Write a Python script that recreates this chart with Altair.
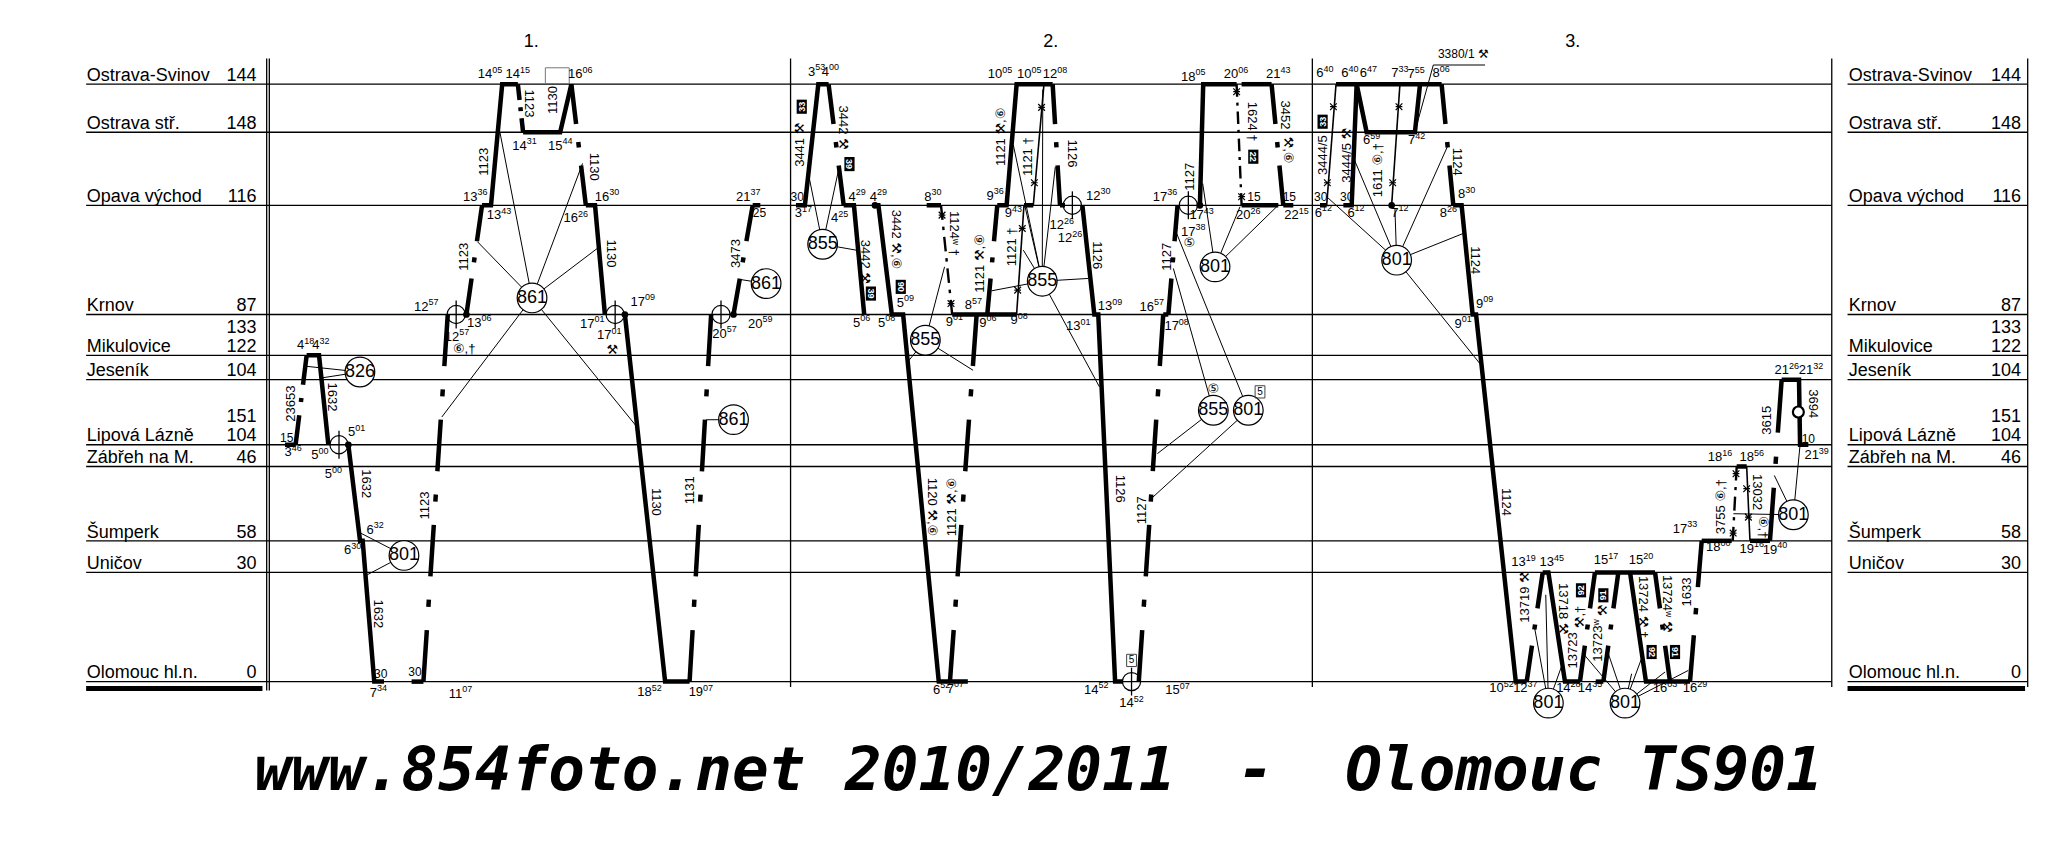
import math
import altair as alt
import pandas as pd

FONT = "Liberation Sans, Arial, DejaVu Sans, sans-serif"
MONO = "DejaVu Sans Mono"
SX, SY = 1.315, 1.316   # schematic units -> page pixels (used only for dash lengths / label nudges)

# ---------------- stations (schematic vertical position) ----------------
ST_CODE = ["SVI", "OST", "OPA", "KRN", "MIK", "JES", "LIP", "ZAB", "SUM", "UNI", "OLO"]
ST_NAME = ["Ostrava-Svinov", "Ostrava stř.", "Opava východ", "Krnov", "Mikulovice",
           "Jeseník", "Lipová Lázně", "Zábřeh na M.", "Šumperk", "Uničov", "Olomouc hl.n."]
ST_KM = ["144", "148", "116", "87", "122", "104", "104", "46", "58", "30", "0"]
ST_POS = [64, 100.5, 156, 239, 270, 288.5, 338, 354.5, 411, 435, 518]
KM2_TEXT = ["133", "151"]
KM2_AT = ["MIK", "LIP"]

PANEL_TEXT = ["1.", "2.", "3."]
PANEL_MID = [404, 799, 1196]
PANEL_LINES = [601.2, 998, 1393]

# ---------------- train paths: (schematic time position, station) ----------------
SOLID_PATHS = [
    [(216.7, "LIP"), (224.8, "LIP")],
    [(233.2, "MIK"), (242.6, "MIK"), (249.7, "LIP")],
    [(264.9, "LIP"), (273.8, "SUM"), (275.8, "SUM"), (284.6, "OLO"), (292, "OLO")],
    [(313, "OLO"), (322, "OLO")],
    [(366.6, "OPA"), (373.4, "OPA"), (381.9, "SVI"), (393.8, "SVI")],
    [(397.8, "OST"), (426, "OST"), (434.5, "SVI")],
    [(445.5, "OPA"), (452.5, "OPA"), (460, "KRN")],
    [(475.2, "KRN"), (505.8, "OLO"), (524.4, "OLO")],
    [(572.4, "OPA"), (578.2, "OPA")],
    [(605.3, "OPA"), (612.1, "OPA"), (622.3, "SVI"), (630.1, "SVI")],
    [(641.6, "OPA"), (649.4, "OPA"), (657.2, "KRN")],
    [(663.5, "OPA"), (668, "OPA"), (678.2, "KRN"), (686.8, "KRN"), (713.9, "OLO"), (736, "OLO")],
    [(704.7, "OPA"), (715.6, "OPA")],
    [(724.1, "KRN"), (773.3, "KRN")],
    [(758.4, "OPA"), (765.5, "OPA"), (773.1, "SVI"), (800.5, "SVI")],
    [(778.7, "OPA"), (785.8, "OPA")],
    [(806.1, "OPA"), (809.9, "OPA")],
    [(823.1, "OPA"), (832.2, "KRN"), (835.2, "KRN"), (848, "OLO"), (854, "OLO")],
    [(884.6, "KRN"), (888.5, "KRN")],
    [(912.5, "OPA"), (915, "SVI"), (940.4, "SVI")],
    [(944.2, "SVI"), (967, "SVI")],
    [(944.2, "OPA"), (972.1, "OPA")],
    [(975.9, "OPA"), (983.5, "OPA")],
    [(1003.8, "OPA"), (1008.9, "OPA")],
    [(1016, "SVI"), (1096.3, "SVI")],
    [(1021.6, "OPA"), (1027.9, "OPA"), (1031.7, "SVI")],
    [(1031.7, "SVI"), (1039.3, "OST"), (1076, "OST"), (1079.9, "SVI")],
    [(1105.2, "OPA"), (1111.5, "OPA"), (1119.9, "KRN"), (1122.5, "KRN"), (1152.7, "OLO"), (1161, "OLO")],
    [(1173.2, "UNI"), (1177.5, "UNI"), (1190.1, "OLO"), (1201.5, "OLO")],
    [(1212.9, "UNI"), (1258.6, "UNI")],
    [(1239.6, "UNI"), (1251.7, "OLO"), (1285.2, "OLO")],
    [(1213.5, "OLO"), (1219.3, "OLO")],
    [(1294.1, "SUM"), (1316.9, "SUM")],
    [(1320.7, "ZAB"), (1328.3, "ZAB")],
    [(1330.8, "SUM"), (1346, "SUM")],
    [(1354.9, "JES"), (1368.1, "JES"), (1368.9, "LIP"), (1375.2, "LIP")],
]
DASHED_PATHS = [
    [(224.8, "LIP"), (233.2, "MIK")],
    [(322, "OLO"), (340.5, "KRN")],
    [(354.7, "KRN"), (366.6, "OPA")],
    [(393.8, "SVI"), (397.8, "OST")],
    [(434.5, "SVI"), (445.5, "OPA")],
    [(524.4, "OLO"), (540.8, "KRN")],
    [(557.8, "KRN"), (572.4, "OPA")],
    [(630.1, "SVI"), (641.6, "OPA")],
    [(722.4, "OLO"), (742.7, "KRN")],
    [(750.8, "KRN"), (758.4, "OPA")],
    [(800.5, "SVI"), (806.1, "OPA")],
    [(866, "OLO"), (884.6, "KRN")],
    [(888.5, "KRN"), (895.5, "OPA")],
    [(967, "SVI"), (975.9, "OPA")],
    [(1096.3, "SVI"), (1105.2, "OPA")],
    [(1161, "OLO"), (1173.2, "UNI")],
    [(1201.5, "OLO"), (1212.9, "UNI")],
    [(1219.3, "OLO"), (1230.7, "UNI")],
    [(1258.6, "UNI"), (1270, "OLO")],
    [(1285.2, "OLO"), (1294.1, "SUM")],
    [(1346, "SUM"), (1354.9, "JES")],
]
THIN_DASHED_PATHS = [
    [(715.6, "OPA"), (724.1, "KRN")],
    [(940.4, "SVI"), (944.2, "OPA")],
    [(1317.7, "SUM"), (1320.7, "ZAB")],
]
THIN_PATHS = [
    [(773.1, "KRN"), (778.7, "OPA")],
    [(785.8, "OPA"), (793.9, "SVI")],
    [(1008.9, "OPA"), (1016, "SVI")],
    [(1058.3, "OPA"), (1064.6, "SVI")],
    [(1328.3, "ZAB"), (1330.8, "SUM")],
]
STAR_X = [716.4, 723.2, 940.4, 944.2, 1318, 1320.2, 773.9, 777.4, 786.6, 792.1, 1014, 1009.4, 1063.9, 1059.1, 1328.3, 1329.6]
STAR_Y = [163.5, 230.7, 69.7, 149.5, 405.1, 360, 220.5, 173.6, 138.9, 81.6, 81.1, 138.9, 81.1, 138.9, 371.4, 393]

# ---------------- vehicle-circulation circles and their links ----------------
CIRCLES = [
    (273.7, 282.7, "826"), (307.2, 422.1, "801"), (404.6, 226.4, "861"), (582.6, 215.5, "861"),
    (557.8, 318.9, "861"), (625.6, 185.6, "855"), (703.7, 258.6, "855"), (792.6, 213.7, "855"),
    (924, 202.8, "801"), (922.7, 311.8, "855"), (949.3, 311.8, "801"), (1062.1, 197.7, "801"),
    (1177.5, 534.3, "801"), (1235.8, 534.3, "801"), (1363.8, 391.2, "801"),
]
LINK_TO = [0, 0, 1, 1, 2, 2, 2, 2, 2, 2, 3, 4, 5, 5, 5, 6, 6, 6,
           7, 7, 7, 7, 7, 7, 7, 7, 8, 8, 8, 9, 9, 10, 10,
           11, 11, 11, 11, 11, 11, 12, 12, 12, 13, 13, 13, 13, 13, 13, 14, 14, 14]
LINK_FROM = [(233.2, 278.4), (244.6, 287.2), (273.8, 404.9), (279.3, 436.8),
             (363.2, 183.8), (380.2, 100.6), (443, 124.2), (454.2, 188.8), (336, 316.9), (485.4, 325.7),
             (563, 212.4), (537, 319),
             (615.5, 135.6), (638.2, 126.7), (651.1, 190.1),
             (690.3, 275), (740, 281.4), (718.3, 202.8),
             (754.1, 221), (778.2, 190.1), (770.6, 110.2), (779.5, 157), (793, 68), (802.5, 127),
             (827.6, 211.6), (836.1, 294),
             (914.6, 139.4), (943, 157.1), (972.1, 155.9),
             (892.3, 204), (880.2, 344.7), (894.8, 177.4), (876.8, 377.7),
             (1008.9, 149.5), (1027.9, 116.6), (1060.8, 158.4), (1100.9, 111), (1112.8, 177.4), (1125.4, 276.3),
             (1166.8, 476), (1175.5, 452), (1188, 505),
             (1204.1, 496.8), (1223.1, 496.8), (1240.8, 512), (1249.7, 496.8), (1266.2, 510.7), (1283.9, 509.5),
             (1318.2, 390.4), (1349.3, 361.3), (1368.9, 338)]
LEADERS = [(1090, 49.4, 1129.3, 49.4), (1090, 49.4, 1076, 100.1)]

CROSS_X = [257.8, 346.9, 467.8, 548.3, 815.5, 903.7, 860.5]
CROSS_AT = ["LIP", "KRN", "KRN", "KRN", "OPA", "OPA", "OLO"]
DOT_X = [264.9, 354.7, 475.2, 557.8, 912.5, 665.4, 1058.3]
DOT_AT = ["LIP", "KRN", "KRN", "KRN", "OPA", "OPA", "OPA"]
RING = [(1367.6, 313.1)]

# ---------------- texts ----------------
TIMES = [
    ("3:46", 223, 343.5), ("4:18", 232.5, 262.4), ("4:32", 244, 262.4), ("5:01", 271.2, 328.3),
    ("5:00", 243.3, 346), ("5:00", 253.5, 360.5), ("6:32", 285.2, 402.6), ("6:30", 268.2, 418.3),
    ("7:34", 287.7, 526.5), ("11:07", 349.8, 527.3), ("12:57", 324.2, 233.2), ("13:06", 364.5, 245.2),
    ("12:57", 347.5, 256.0), ("13:36", 361.5, 149.6), ("13:43", 379.5, 163.5), ("14:05", 372.7, 56.3),
    ("14:15", 393.8, 56.3), ("14:31", 398.8, 110.8), ("15:44", 426, 110.8), ("16:06", 441.3, 56.3),
    ("16:26", 437.9, 166), ("16:30", 461.6, 149.6), ("17:01", 450.4, 245.9), ("17:01", 463.3, 254.8),
    ("17:09", 488.8, 229.4), ("18:52", 494, 526), ("19:07", 533, 526), ("20:57", 551, 253.5),
    ("20:59", 578.2, 245.9), ("21:37", 569, 149.6),
    ("3:53", 621, 54.5), ("4:00", 631.5, 54.5), ("3:17", 611, 162.2), ("4:25", 638.5, 166),
    ("4:29", 651.8, 149.6), ("4:29", 668, 149.6), ("5:06", 655.2, 245.4), ("5:08", 674.2, 245.4),
    ("5:09", 688.5, 230.2), ("8:30", 709.5, 149.6), ("9:01", 725.8, 244.6), ("9:06", 751.3, 245.4),
    ("9:08", 775, 243.3), ("8:57", 740.2, 231.9), ("9:36", 756.7, 148.8), ("9:43", 770.6, 162.2),
    ("10:05", 760.5, 56.3), ("10:05", 782.8, 56.3), ("12:08", 802.3, 56.3), ("12:30", 835.2, 148.8),
    ("12:26", 807.4, 171.1), ("12:26", 813.7, 181.2), ("13:09", 844.1, 232.7), ("13:01", 820, 247.9),
    ("6:52", 716, 524), ("7:07", 726.5, 523.5), ("14:52", 833.7, 524.2), ("14:52", 860.5, 534.4),
    ("15:07", 895.5, 524.7), ("16:57", 875.8, 233.2), ("17:08", 894.8, 247.9), ("17:36", 885.9, 149.5),
    ("17:38", 907.5, 176.2), ("17:43", 913.8, 163.5), ("18:05", 907.5, 58.3), ("20:06", 939.9, 56.3),
    ("21:43", 972.1, 56.3), ("20:26", 949.3, 163.5), ("22:15", 986, 163.5),
    ("6:40", 1007.6, 55.7), ("6:40", 1026.6, 55.7), ("6:47", 1040.6, 55.7), ("7:33", 1064.6, 55.7),
    ("7:55", 1077, 56.5), ("8:06", 1096, 55.7), ("6:12", 1006.3, 161.7), ("6:12", 1031.2, 161.7),
    ("6:59", 1043.1, 106.4), ("7:42", 1077.3, 106.4), ("7:12", 1064.6, 161.7), ("8:30", 1115.3, 147.5),
    ("8:26", 1101.4, 162.2), ("9:09", 1129, 230.7), ("9:01", 1112.6, 245.9), ("10:52", 1141.8, 523),
    ("12:37", 1160, 523), ("13:19", 1158.5, 427.1), ("13:45", 1180, 427.1), ("14:28", 1192.7, 523),
    ("14:35", 1209.2, 523), ("15:17", 1221.3, 425.8), ("15:20", 1247.9, 425.8), ("16:03", 1266.2, 523),
    ("16:29", 1289, 523), ("17:33", 1281.4, 401.7), ("18:00", 1306.7, 415.7), ("18:16", 1308, 347.3),
    ("18:56", 1332.1, 347.3), ("19:16", 1332.1, 417), ("19:40", 1349.8, 417.8), ("21:26", 1358.7, 281.4),
    ("21:32", 1377.2, 281.4), ("21:39", 1381.5, 346),
]
PLAIN = [("15", 218, 332.6), ("30", 289.5, 512), ("30", 315.6, 510.8), ("25", 577.5, 162.2),
         ("30", 606.3, 149.6), ("15", 953.6, 149.5), ("15", 980.5, 149.5), ("30", 1004.3, 149.5),
         ("30", 1024.1, 149.5), ("10", 1375.2, 333.4), ("3380/1 ⚒", 1112.8, 41)]
TRAINS = [
    ("23653", 221, 306.8, 270), ("1632", 252.2, 301.7, 90), ("1632", 278.3, 367.6, 90),
    ("1632", 287.7, 466.5, 90), ("1123", 323.2, 384.1, 270), ("1123", 353, 195.2, 270),
    ("1123", 368.3, 123, 270), ("1123", 402.2, 78.6, 90), ("1130", 420.9, 76, 270),
    ("1130", 451.5, 126.7, 90), ("1130", 465, 192.6, 90), ("1130", 499, 381.4, 90),
    ("1131", 524.4, 372.6, 270), ("3473", 559.5, 192.7, 270),
    ("3441 ⚒", 608.5, 110, 270), ("3442 ⚒", 641, 97, 90), ("3442 ⚒", 658, 199, 90),
    ("3442 ⚒,⑥", 681, 182, 90), ("1124ʷ †", 725.8, 177.4, 90), ("1121 ⚒,⑥", 761, 104, 270),
    ("1121 †", 782, 119.1, 270), ("1126", 815, 116.6, 90), ("1121 ⚒,⑥", 745.2, 200.2, 270),
    ("1121 †", 769.3, 187.6, 270), ("1126", 834, 193.9, 90), ("1120 ⚒,⑥", 708.8, 385.3, 90),
    ("1121 ⚒,⑥", 724, 385.3, 270), ("1126", 851.4, 371.4, 90), ("1127", 887.2, 195.2, 270),
    ("1127", 905, 134.3, 270), ("1127", 868.4, 387.8, 270), ("1624 †", 951.8, 92.5, 90),
    ("3452", 977.2, 87.4, 90), ("⚒,⑥", 979.7, 114, 90),
    ("3444/5", 1005.8, 117.9, 270), ("3444/5 ⚒", 1024.3, 118, 270), ("1611 ⑥,†", 1048.2, 129.3, 270),
    ("1124", 1107.7, 123, 90), ("1124", 1121.7, 197.7, 90), ("1124", 1145.4, 381.5, 90),
    ("13719 ⚒", 1159.7, 453.7, 270), ("13718 ⚒", 1188.9, 462.6, 90), ("13723", 1196.5, 494.3, 270),
    ("⚒,†", 1201.5, 468.9, 270), ("13723ʷ", 1215.5, 486.7, 270), ("⚒", 1219.3, 463.8, 270),
    ("13724 ⚒,†", 1249.7, 461.3, 90), ("13724ʷ ⚒", 1267.5, 458.8, 90), ("1633", 1283.2, 449.9, 270),
    ("3755 ⑥,†", 1309, 385, 270), ("13032", 1336.4, 374, 90), ("⑥,†", 1341, 400.6, 90),
    ("3615", 1344, 319.4, 270), ("3694", 1379, 306.8, 90),
    ("⑥,†", 353, 265.5, 0), ("⚒", 465.7, 266.2, 0), ("⑤", 904.4, 185, 0), ("⑤", 922.7, 296, 0),
]
BOXED = [("33", 609.7, 81.1, 270), ("39", 646, 124.7, 90), ("39", 662.3, 223.1, 90), ("90", 685, 218, 90),
         ("22", 953.1, 119.1, 90), ("33", 1005.8, 92.5, 270), ("92", 1202.3, 448.6, 270),
         ("91", 1219.3, 452.4, 270), ("92", 1256, 495.5, 90), ("91", 1273.8, 495.5, 90)]
OPEN_BOX = [("5", 860.5, 501.9), ("5", 958.2, 297.8)]
EMPTY_BOX = [(423.8, 57.5)]
TITLE_PARTS = ["www.854foto.net", "2010/2011", "-", "Olomouc TS901"]
TITLE_X = [193.5, 642.6, 955, 1023]
TITLE_ALIGN = ["left", "left", "center", "left"]

# ---------------- helpers ----------------
def Y(v):
    return ST_POS[ST_CODE.index(v)] if isinstance(v, str) else float(v)


XS = alt.Scale(domain=[6.08, 1554.4], nice=False, zero=False)
YS = alt.Scale(domain=[6.08, 649.0], nice=False, zero=False, reverse=True)


def pos():
    return {"x": alt.X("x:Q", scale=XS, axis=None), "y": alt.Y("y:Q", scale=YS, axis=None)}


def seg_enc():
    d = pos()
    d["x2"] = alt.X2("x2:Q")
    d["y2"] = alt.Y2("y2:Q")
    return d


def path_df(paths, prefix):
    rows = []
    for i, p in enumerate(paths):
        for j, (x, s) in enumerate(p):
            rows.append({"pid": f"{prefix}{i}", "ord": j, "x": float(x), "y": Y(s)})
    return pd.DataFrame(rows)


def line_layer(df, width, dash=None):
    kw = dict(color="black", strokeWidth=width, strokeCap="butt", strokeJoin="miter")
    if dash is not None:
        kw["strokeDash"] = dash
    return alt.Chart(df).mark_line(**kw).encode(**pos(), detail="pid:N", order="ord:Q")


def dash_for(p, d, g, t, tmin):
    L = 0.0
    for (x0, s0), (x1, s1) in zip(p[:-1], p[1:]):
        L += math.hypot((x1 - x0) * SX, (Y(s1) - Y(s0)) * SY)
    n = max(2, round((L + 2 * g + t) / (d + 2 * g + t)))
    u = L / (n * d + (n - 1) * (2 * g + t))
    return [round(d * u, 2), round(g * u, 2), round(max(t * u, tmin), 2), round(g * u, 2)]


layers = []

# grid: station lines, panel borders, bottom bars
grid = []
for yv in ST_POS:
    grid.append({"x": 65.5, "y": yv, "x2": 1393, "y2": yv})
    grid.append({"x": 1405, "y": yv, "x2": 1542, "y2": yv})
for xv in [202.8, 204.8]:
    grid.append({"x": xv, "y": 44.4, "x2": xv, "y2": 524.7})
for xv in PANEL_LINES + [1542]:
    grid.append({"x": xv, "y": 44.4, "x2": xv, "y2": 522})
for cx, cs in zip(CROSS_X, CROSS_AT):
    grid.append({"x": cx, "y": Y(cs) - 10.6, "x2": cx, "y2": Y(cs) + 10.6})
layers.append(alt.Chart(pd.DataFrame(grid)).mark_rule(color="black", strokeWidth=1.3).encode(**seg_enc()))

bars = pd.DataFrame([{"x": 65.5, "y": 523.3, "x2": 199.6, "y2": 523.3},
                     {"x": 1405, "y": 523.3, "x2": 1540, "y2": 523.3}])
layers.append(alt.Chart(bars).mark_rule(color="black", strokeWidth=5).encode(**seg_enc()))

# thin links to circles + leader
links = [{"x": fx, "y": fy, "x2": CIRCLES[c][0], "y2": CIRCLES[c][1]} for (fx, fy), c in zip(LINK_FROM, LINK_TO)]
links += [{"x": a, "y": b, "x2": c, "y2": d} for a, b, c, d in LEADERS]
layers.append(alt.Chart(pd.DataFrame(links)).mark_rule(color="black", strokeWidth=1).encode(**seg_enc()))

# train paths
layers.append(line_layer(path_df(SOLID_PATHS, "s"), 4.5))
layers.append(line_layer(path_df(THIN_PATHS, "t"), 1.6))
for i, p in enumerate(DASHED_PATHS):
    layers.append(line_layer(path_df([p], f"d{i}_"), 4.5, dash_for(p, 51, 23, 7, 4)))
for i, p in enumerate(THIN_DASHED_PATHS):
    layers.append(line_layer(path_df([p], f"e{i}_"), 2.4, dash_for(p, 13, 6, 3, 3)))

# asterisk marks
stars = pd.DataFrame({"x": STAR_X, "y": STAR_Y})
layers.append(alt.Chart(stars).mark_point(shape="M-1,-1L1,1M1,-1L-1,1M-1,0L1,0", filled=False,
                                          size=45, color="black", strokeWidth=1.2, opacity=1).encode(**pos()))

# crossing rings, dots
cross = pd.DataFrame({"x": CROSS_X, "y": [Y(s) for s in CROSS_AT]})
layers.append(alt.Chart(cross).mark_point(shape="circle", filled=False, size=330, color="black",
                                          strokeWidth=1.2, opacity=1).encode(**pos()))
dots = pd.DataFrame({"x": DOT_X, "y": [Y(s) for s in DOT_AT]})
layers.append(alt.Chart(dots).mark_circle(size=45, color="black", opacity=1).encode(**pos()))
ring = pd.DataFrame({"x": [r[0] for r in RING], "y": [r[1] for r in RING]})
layers.append(alt.Chart(ring).mark_circle(size=120, fill="white", stroke="black", strokeWidth=2.2,
                                          opacity=1).encode(**pos()))

# circles with numbers
circ = pd.DataFrame({"x": [c[0] for c in CIRCLES], "y": [c[1] for c in CIRCLES], "t": [c[2] for c in CIRCLES]})
layers.append(alt.Chart(circ).mark_circle(size=880, fill="white", stroke="black", strokeWidth=1.2,
                                          opacity=1).encode(**pos()))
layers.append(alt.Chart(circ).mark_text(font=FONT, fontSize=18, align="center", baseline="middle",
                                        color="black").encode(**pos(), text="t:N"))

# boxes
boxed = pd.DataFrame({"t": [b[0] for b in BOXED], "x": [b[1] for b in BOXED],
                      "y": [b[2] for b in BOXED], "angle": [b[3] for b in BOXED]})
layers.append(alt.Chart(boxed).mark_point(shape="M-1,-0.72L1,-0.72L1,0.72L-1,0.72Z", filled=True,
                                          size=200, color="black", opacity=1).encode(
    **pos(), angle=alt.Angle("angle:Q", scale=None)))
layers.append(alt.Chart(boxed).mark_text(font=FONT, fontSize=9, fontWeight="bold", color="white",
                                         align="center", baseline="middle").encode(
    **pos(), text="t:N", angle=alt.Angle("angle:Q", scale=None)))
obox = pd.DataFrame({"t": [b[0] for b in OPEN_BOX], "x": [b[1] for b in OPEN_BOX], "y": [b[2] for b in OPEN_BOX]})
layers.append(alt.Chart(obox).mark_point(shape="M-0.8,-1L0.8,-1L0.8,1L-0.8,1Z", filled=False, size=150,
                                         color="#444", strokeWidth=1, opacity=1).encode(**pos()))
layers.append(alt.Chart(obox).mark_text(font=FONT, fontSize=10, color="black", align="center",
                                        baseline="middle").encode(**pos(), text="t:N"))
ebox = pd.DataFrame({"x": [b[0] for b in EMPTY_BOX], "y": [b[1] for b in EMPTY_BOX]})
layers.append(alt.Chart(ebox).mark_point(shape="M-1,-0.66L1,-0.66L1,0.66L-1,0.66Z", filled=False, size=570,
                                         color="#777", strokeWidth=1, opacity=1).encode(**pos()))

# time labels (hour + raised minutes)
hrows, mrows = [], []
for t, x, y in TIMES:
    h, m = t.split(":")
    ax = x + (len(h) * 0.556 * 13 - 2 * 0.556 * 9) / 2 / SX
    hrows.append({"x": ax, "y": y, "t": h})
    mrows.append({"x": ax, "y": y, "t": m})
layers.append(alt.Chart(pd.DataFrame(hrows)).mark_text(font=FONT, fontSize=13, align="right", baseline="middle",
                                                       color="black").encode(**pos(), text="t:N"))
layers.append(alt.Chart(pd.DataFrame(mrows)).mark_text(font=FONT, fontSize=9, align="left", baseline="middle",
                                                       dy=-4.5, color="black").encode(**pos(), text="t:N"))
plain = pd.DataFrame({"t": [p[0] for p in PLAIN], "x": [p[1] for p in PLAIN], "y": [p[2] for p in PLAIN]})
layers.append(alt.Chart(plain).mark_text(font=FONT, fontSize=12, align="center", baseline="middle",
                                         color="black").encode(**pos(), text="t:N"))
trains = pd.DataFrame({"t": [p[0] for p in TRAINS], "x": [p[1] for p in TRAINS],
                       "y": [p[2] for p in TRAINS], "angle": [p[3] for p in TRAINS]})
layers.append(alt.Chart(trains).mark_text(font=FONT, fontSize=13, align="center", baseline="middle",
                                          color="black").encode(**pos(), text="t:N",
                                                                angle=alt.Angle("angle:Q", scale=None)))

# station labels left & right
st_rows = []
for name, km, yv in zip(ST_NAME, ST_KM, ST_POS):
    st_rows.append({"x": 66, "y": yv - 2.5, "t": name, "a": "L"})
    st_rows.append({"x": 195, "y": yv - 2.5, "t": km, "a": "R"})
    st_rows.append({"x": 1406, "y": yv - 2.5, "t": name, "a": "L"})
    st_rows.append({"x": 1537, "y": yv - 2.5, "t": km, "a": "R"})
for km, at in zip(KM2_TEXT, KM2_AT):
    st_rows.append({"x": 195, "y": Y(at) - 17, "t": km, "a": "R"})
    st_rows.append({"x": 1537, "y": Y(at) - 17, "t": km, "a": "R"})
st_df = pd.DataFrame(st_rows)
layers.append(alt.Chart(st_df).transform_filter(alt.datum.a == "L").mark_text(
    font=FONT, fontSize=18, align="left", baseline="alphabetic", color="black").encode(**pos(), text="t:N"))
layers.append(alt.Chart(st_df).transform_filter(alt.datum.a == "R").mark_text(
    font=FONT, fontSize=18, align="right", baseline="alphabetic", color="black").encode(**pos(), text="t:N"))

# panel numbers
pan = pd.DataFrame({"t": PANEL_TEXT, "x": PANEL_MID, "y": [31.7] * 3})
layers.append(alt.Chart(pan).mark_text(font=FONT, fontSize=18, align="center", baseline="middle",
                                       color="black").encode(**pos(), text="t:N"))

# title
for txt, tx, al in zip(TITLE_PARTS, TITLE_X, TITLE_ALIGN):
    tdf = pd.DataFrame({"t": [txt], "x": [tx], "y": [600.0]})
    layers.append(alt.Chart(tdf).mark_text(font=MONO, fontSize=61, fontStyle="italic", fontWeight="bold",
                                           align=al, baseline="alphabetic", color="black").encode(**pos(), text="t:N"))

chart = alt.layer(*layers).properties(
    width=2036, height=846, autosize=alt.AutoSizeParams(type="none"), padding=0, background="white"
).configure_view(strokeWidth=0)

chart.save("out.html", embed_options={"renderer": "svg", "actions": False})
